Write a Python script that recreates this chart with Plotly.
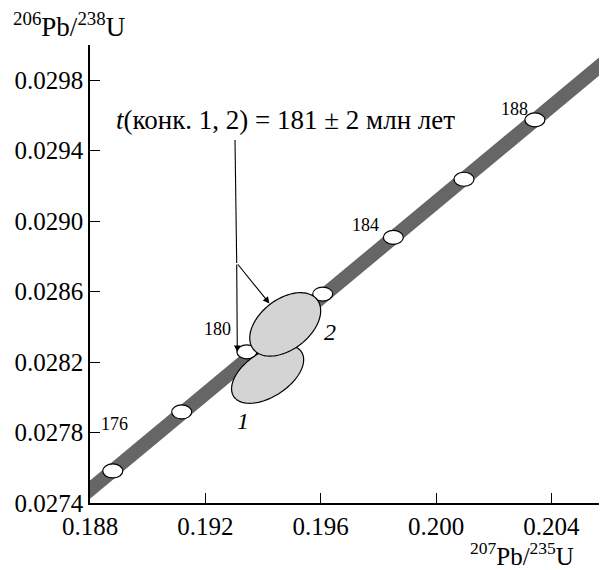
import numpy as np
import plotly.graph_objects as go

# ---------------- data ----------------
ages = [176, 178, 180, 182, 184, 186, 188]
age_x = [0.18879, 0.19118, 0.19344, 0.19607, 0.19852, 0.20097, 0.20343]
age_y = [0.027582, 0.027917, 0.028258, 0.028586, 0.028908, 0.029238, 0.029575]
labeled_ages = [176, 180, 184, 188]

band_x = [0.1870, 0.2070]
band_y = [0.02734, 0.03006]

ell_names = ["1", "2"]
ell_x = [0.19416, 0.19477]
ell_y = [0.028131, 0.028414]
ell_sx = [0.00125, 0.00123]
ell_sy = [0.000165, 0.000180]
ell_rho = [0.50, 0.43]

x_ticks = [0.188, 0.192, 0.196, 0.200, 0.204]
y_ticks = [0.0274, 0.0278, 0.0282, 0.0286, 0.0290, 0.0294, 0.0298]

age_text = "<i>t</i>(конк. 1, 2) = 181 ± 2 млн лет"

# ---------------- layout geometry ----------------
# the page body has a default 8 px margin, so the figure is drawn 8 px in
OFF = 8
PAGE_W, PAGE_H = 607, 570
PLOT_L, PLOT_T, PLOT_R, PLOT_B = 90, 45, 607, 503   # target plot area in page pixels
WIDTH, HEIGHT = PAGE_W - OFF, PAGE_H - OFF
ML, MT = PLOT_L - OFF, PLOT_T - OFF
MR = WIDTH - (PLOT_R - OFF)
MB = HEIGHT - (PLOT_B - OFF)
X_RANGE = [0.188, 0.20593]
Y_RANGE = [0.0274, 0.0300]
PW = PLOT_R - PLOT_L
PH = PLOT_B - PLOT_T


def px2x(px):
    return X_RANGE[0] + (px - PLOT_L) / PW * (X_RANGE[1] - X_RANGE[0])


def px2y(py):
    return Y_RANGE[1] - (py - PLOT_T) / PH * (Y_RANGE[1] - Y_RANGE[0])


def px2paper_x(px):
    return (px - PLOT_L) / PW


def px2paper_y(py):
    return (PLOT_B - py) / PH


FONT = "'Liberation Serif', 'Times New Roman', 'DejaVu Serif', serif"

fig = go.Figure()

# concordia band
fig.add_trace(go.Scatter(x=band_x, y=band_y, mode="lines",
                         line=dict(color="#666666", width=14),
                         hoverinfo="skip"))

shapes = []
# age markers (white ellipses)
for xa, ya in zip(age_x, age_y):
    shapes.append(dict(type="circle", xref="x", yref="y",
                       xsizemode="pixel", ysizemode="pixel",
                       xanchor=xa, yanchor=ya,
                       x0=-10, x1=10, y0=-7, y1=7,
                       fillcolor="white", line=dict(color="black", width=1.2)))

# error ellipses
t = np.linspace(0, 2 * np.pi, 121)
for cx, cy, sx, sy, r in zip(ell_x, ell_y, ell_sx, ell_sy, ell_rho):
    ex = cx + sx * np.cos(t)
    ey = cy + sy * (r * np.cos(t) + np.sqrt(1 - r * r) * np.sin(t))
    path = "M " + " L ".join(f"{a:.7f},{b:.7f}" for a, b in zip(ex, ey)) + " Z"
    shapes.append(dict(type="path", xref="x", yref="y", path=path,
                       fillcolor="#d4d4d4", line=dict(color="black", width=1.2)))

# leader line from text to branch point
shapes.append(dict(type="line", xref="x", yref="y",
                   x0=px2x(235), y0=px2y(140), x1=px2x(236.7), y1=px2y(263),
                   line=dict(color="black", width=1.1)))

annotations = []
# age labels
label_shift = {176: (2, 47), 180: (-29, 23), 184: (-28, 12), 188: (-20, 11)}
for a, xa, ya in zip(ages, age_x, age_y):
    if a in labeled_ages:
        dx, dy = label_shift[a]
        annotations.append(dict(x=xa, y=ya, xref="x", yref="y", text=str(a),
                                showarrow=False, xshift=dx, yshift=dy,
                                xanchor="center", yanchor="middle",
                                font=dict(family=FONT, size=18, color="black")))

# ellipse numbers
num_shift = [(-25, -47), (45, -8)]
for name, cx, cy, (dx, dy) in zip(ell_names, ell_x, ell_y, num_shift):
    annotations.append(dict(x=cx, y=cy, xref="x", yref="y", text=f"<i>{name}</i>",
                            showarrow=False, xshift=dx, yshift=dy,
                            xanchor="center", yanchor="middle",
                            font=dict(family=FONT, size=24, color="black")))

# main annotation text
annotations.append(dict(x=px2x(285.5), y=px2y(120), xref="x", yref="y",
                        text=age_text, showarrow=False,
                        xanchor="center", yanchor="middle",
                        font=dict(family=FONT, size=27, color="black")))

# arrows
annotations.append(dict(x=px2x(237.3), y=px2y(352), xref="x", yref="y", text="",
                        showarrow=True, ax=-0.6, ay=-89, axref="pixel", ayref="pixel",
                        arrowhead=2, arrowsize=1.2, arrowwidth=1.1, arrowcolor="black"))
annotations.append(dict(x=px2x(269.5), y=px2y(303.5), xref="x", yref="y", text="",
                        showarrow=True, ax=-32.8, ay=-40.5, axref="pixel", ayref="pixel",
                        arrowhead=2, arrowsize=1.2, arrowwidth=1.1, arrowcolor="black"))

# axis titles
annotations.append(dict(x=px2paper_x(68.5), y=px2paper_y(25), xref="paper", yref="paper",
                        xanchor="center", yanchor="middle",
                        text="<sup>206</sup>Pb/<sup>238</sup>U", showarrow=False,
                        font=dict(family=FONT, size=27, color="black")))
annotations.append(dict(x=px2paper_x(521.5), y=px2paper_y(554), xref="paper", yref="paper",
                        xanchor="center", yanchor="middle",
                        text="<sup>207</sup>Pb/<sup>235</sup>U", showarrow=False,
                        font=dict(family=FONT, size=25, color="black")))

axis_common = dict(showgrid=False, zeroline=False, showline=True, linecolor="black",
                   linewidth=1.5, ticks="inside", ticklen=10, tickwidth=1.2,
                   tickcolor="black", tickfont=dict(family=FONT, size=25, color="black"))

fig.update_layout(
    width=WIDTH, height=HEIGHT,
    margin=dict(l=ML, r=MR, t=MT, b=MB, autoexpand=False),
    paper_bgcolor="white", plot_bgcolor="white",
    font=dict(family=FONT, color="black"),
    showlegend=False,
    shapes=shapes, annotations=annotations,
    xaxis=dict(range=X_RANGE, tickvals=x_ticks,
               ticktext=[f"{v:.3f}" for v in x_ticks], **axis_common),
    yaxis=dict(range=Y_RANGE, tickvals=y_ticks,
               ticktext=[f"{v:.4f}" for v in y_ticks], **axis_common),
)

fig.write_html("out.html")
